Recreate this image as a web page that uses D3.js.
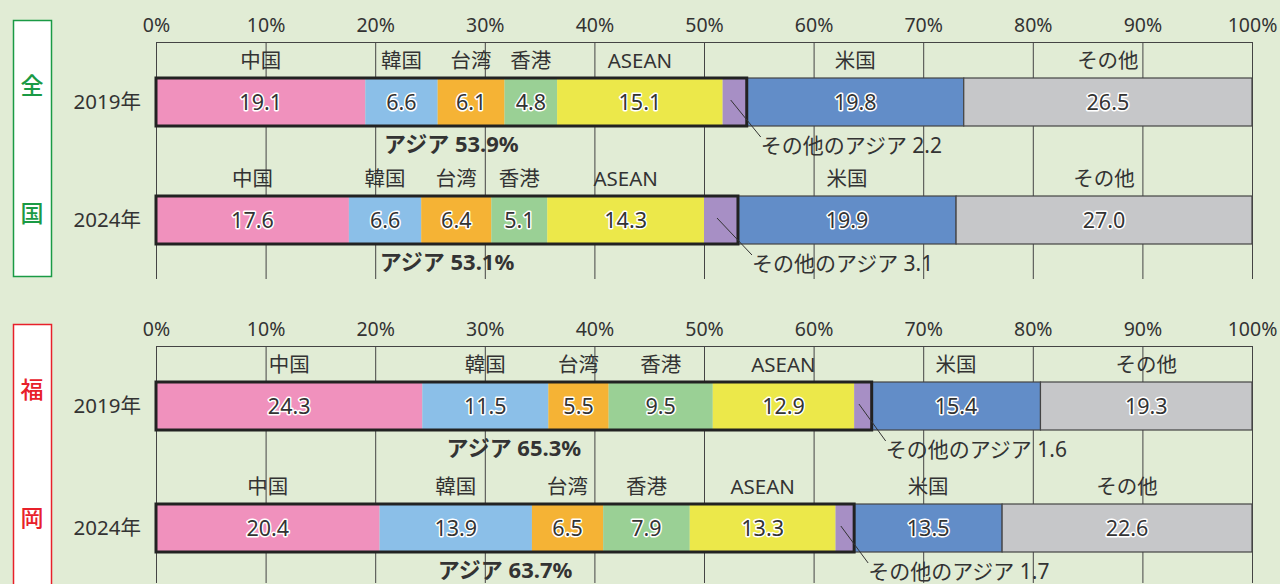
<!DOCTYPE html>
<html>
<head>
<meta charset="utf-8">
<script src="https://cdn.jsdelivr.net/npm/d3@7"></script>
<style>
  body { margin: 0; background: #e1ecd5; }
  svg { display: block; font-family: "Noto Sans", "Noto Sans CJK JP", sans-serif; }
</style>
</head>
<body>
<svg id="chart"></svg>
<script>
// data
const regions = ["全国", "福岡"];
const years = ["2019年", "2024年"];
const categories = ["中国", "韓国", "台湾", "香港", "ASEAN", "その他のアジア", "米国", "その他"];
const asiaCount = 6;
const zenkoku2019 = [19.1, 6.6, 6.1, 4.8, 15.1, 2.2, 19.8, 26.5];
const zenkoku2024 = [17.6, 6.6, 6.4, 5.1, 14.3, 3.1, 19.9, 27.0];
const fukuoka2019 = [24.3, 11.5, 5.5, 9.5, 12.9, 1.6, 15.4, 19.3];
const fukuoka2024 = [20.4, 13.9, 6.5, 7.9, 13.3, 1.7, 13.5, 22.6];
const tickValues = [0, 10, 20, 30, 40, 50, 60, 70, 80, 90, 100];

const colors = ["#f091bd", "#8bbfe8", "#f5b335", "#9ad095", "#ece84a", "#a78fc5", "#628dc8", "#c6c7c9"];
const regionColors = ["#1a9a45", "#e8202a"];

const width = 1280, height = 584;
const svg = d3.select("#chart").attr("width", width).attr("height", height);

const x = d3.scaleLinear().domain([0, 100]).range([156, 1252]);
const color = d3.scaleOrdinal().domain(categories).range(colors);
const barH = 48;

const panels = [
    { region: regions[0], top: 42, rows: [zenkoku2019, zenkoku2024], gap: 118, sideColor: regionColors[0], boxBottom: 277 },
    { region: regions[1], top: 346, rows: [fukuoka2019, fukuoka2024], gap: 122, sideColor: regionColors[1], boxBottom: 620 }
];

panels.forEach(p => {
    const g = svg.append("g").attr("transform", `translate(0, ${p.top})`);

    // side label box
    g.append("rect")
        .attr("x", 13.5).attr("y", -21.5)
        .attr("width", 38).attr("height", p.boxBottom - p.top + 21)
        .attr("fill", "#fff").attr("stroke", p.sideColor).attr("stroke-width", 1.5);
    [...p.region].forEach((ch, i) => {
        g.append("text")
            .attr("x", 32).attr("y", i === 0 ? 44 : 172)
            .attr("dy", "0.36em")
            .attr("text-anchor", "middle")
            .attr("font-size", 23).attr("font-weight", 500)
            .attr("font-family", "\"Noto Sans CJK JP\", sans-serif")
            .attr("fill", p.sideColor)
            .text(ch);
    });

    // tick labels
    const axisTop = d3.axisTop(x).tickValues(tickValues).tickSize(0).tickPadding(10)
        .tickFormat(d => d + "%");
    const ag = g.append("g").call(axisTop);
    ag.select(".domain").remove();
    ag.selectAll("text").attr("font-size", 19.5).attr("fill", "#333")
        .attr("font-family", "\"Noto Sans\", sans-serif");

    // grid
    const grid = d3.axisBottom(x).tickValues(tickValues).tickSize(237).tickSizeOuter(0).tickFormat("");
    const gg = g.append("g").call(grid);
    gg.selectAll("line").attr("stroke", "#444");
    gg.select(".domain").attr("stroke", "#444");

    const y = d3.scaleOrdinal().domain(years).range([36, 36 + p.gap]);

    p.rows.forEach((vals, ri) => {
        const by = y(years[ri]);
        let cum = 0;
        const segs = vals.map((v, i) => {
            const end = i === vals.length - 1 ? 100 : Math.min(cum + v, 100);
            const s = { cat: categories[i], v: v, x0: cum, x1: end, i: i };
            cum += v;
            return s;
        });
        const asiaEnd = segs[asiaCount - 1].x1;
        const asiaTotal = d3.sum(vals.slice(0, asiaCount));

        // year label
        g.append("text")
            .attr("x", 141).attr("y", by + barH / 2).attr("dy", "0.36em")
            .attr("text-anchor", "end").attr("font-size", 20.5).attr("fill", "#333")
            .text(years[ri]);

        // bars
        const bg = g.append("g");
        bg.selectAll("rect").data(segs).join("rect")
            .attr("x", d => x(d.x0))
            .attr("y", by)
            .attr("width", d => x(d.x1) - x(d.x0))
            .attr("height", barH)
            .attr("fill", d => color(d.cat))
            .attr("stroke", d => d.i >= asiaCount ? "#444" : "none")
            .attr("stroke-width", 1.2);

        // asia box
        bg.append("rect")
            .attr("x", x(0)).attr("y", by)
            .attr("width", x(asiaEnd) - x(0)).attr("height", barH)
            .attr("fill", "none").attr("stroke", "#222").attr("stroke-width", 3);

        // category labels above
        g.append("g").selectAll("text").data(segs.filter(d => d.i !== asiaCount - 1)).join("text")
            .attr("x", d => x((d.x0 + d.x1) / 2))
            .attr("y", by - 17).attr("dy", "0.36em")
            .attr("text-anchor", "middle").attr("font-size", 20.5).attr("fill", "#333")
            .text(d => d.cat);

        // value labels
        g.append("g").selectAll("text").data(segs.filter(d => d.i !== asiaCount - 1)).join("text")
            .attr("x", d => x((d.x0 + d.x1) / 2))
            .attr("y", by + barH / 2).attr("dy", "0.36em")
            .attr("text-anchor", "middle").attr("font-size", 21.5).attr("fill", "#333")
            .attr("stroke", "#fff").attr("stroke-width", 3).attr("paint-order", "stroke")
            .attr("stroke-linejoin", "round")
            .text(d => d.v.toFixed(1));

        // asia total
        g.append("text")
            .attr("x", x(asiaEnd / 2)).attr("y", by + barH + 18).attr("dy", "0.36em")
            .attr("text-anchor", "middle").attr("font-size", 22).attr("font-weight", 700)
            .attr("fill", "#333")
            .text(`アジア ${asiaTotal.toFixed(1)}%`);

        // other asia callout
        const other = segs[asiaCount - 1];
        g.append("line")
            .attr("x1", x((other.x0 + other.x1) / 2) - 4).attr("y1", by + barH / 2 - 2)
            .attr("x2", x(asiaEnd) + 14).attr("y2", by + barH + 11)
            .attr("stroke", "#333").attr("stroke-width", 1);
        g.append("text")
            .attr("x", x(asiaEnd) + 14).attr("y", by + barH + 19).attr("dy", "0.36em")
            .attr("font-size", 21).attr("fill", "#333")
            .text(`${other.cat} ${other.v.toFixed(1)}`);
    });
});
</script>
</body>
</html>
